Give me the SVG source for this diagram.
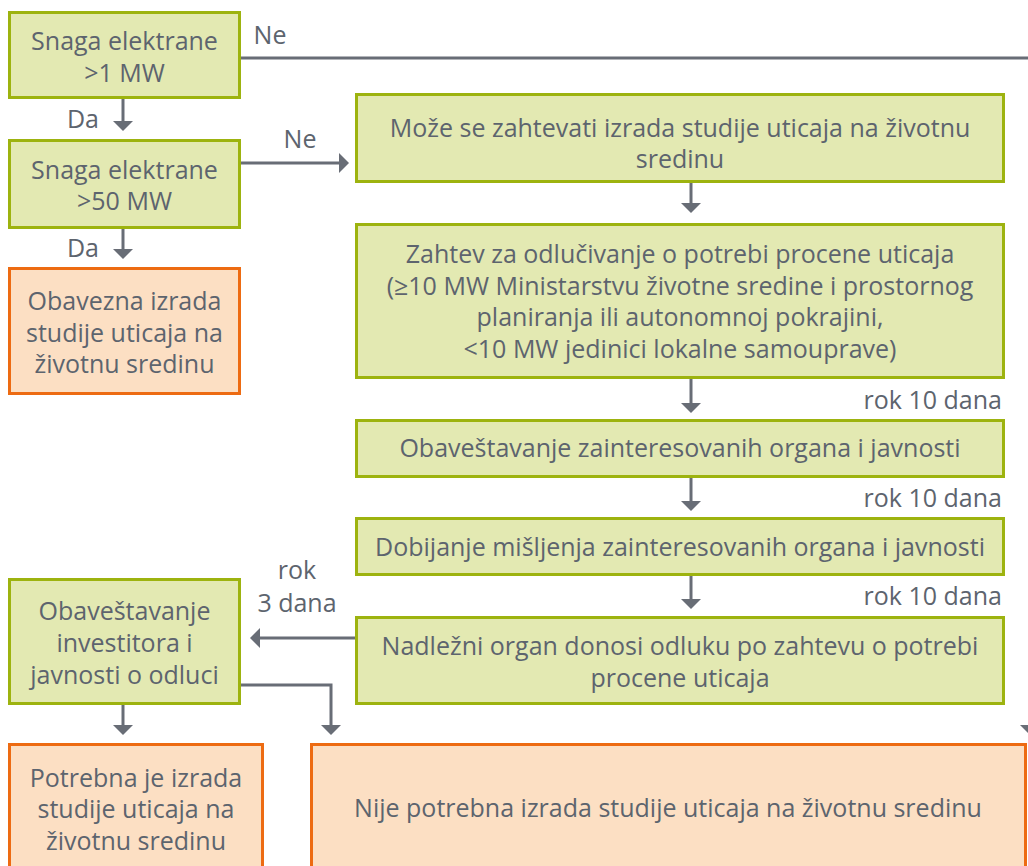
<svg xmlns="http://www.w3.org/2000/svg" width="1028" height="866" viewBox="0 0 1028 866">
<style>
.g{fill:#e3e9b2;stroke:#9db30f;stroke-width:3}
.o{fill:#fcdfc3;stroke:#ed6b12;stroke-width:3}
text{font-family:"Open Sans","Liberation Sans",sans-serif;font-size:25px;fill:#5d646e;text-anchor:middle}
.r{text-anchor:end}
.c{fill:none;stroke:#686d76;stroke-width:3}
</style>
<defs>
<marker id="ah" markerUnits="userSpaceOnUse" markerWidth="12" markerHeight="22" refX="2" refY="10" orient="auto" viewBox="0 0 12 20">
<path d="M0,0 L10,10 L0,20 Z" fill="#686d76"/>
</marker>
</defs>
<rect width="1028" height="866" fill="#ffffff"/>
<g id="connectors">
<path class="c" d="M241,58 H1030 V727" marker-end="url(#ah)"/>
<path class="c" d="M123,99 V123" marker-end="url(#ah)"/>
<path class="c" d="M123,229 V251" marker-end="url(#ah)"/>
<path class="c" d="M241,163 H341" marker-end="url(#ah)"/>
<path class="c" d="M691,183 V205" marker-end="url(#ah)"/>
<path class="c" d="M691,379 V405" marker-end="url(#ah)"/>
<path class="c" d="M691,478 V503" marker-end="url(#ah)"/>
<path class="c" d="M691,576 V601" marker-end="url(#ah)"/>
<path class="c" d="M355,638 H258" marker-end="url(#ah)"/>
<path class="c" d="M123,705 V727" marker-end="url(#ah)"/>
<path class="c" d="M241,685 H331 V727" marker-end="url(#ah)"/>
<text x="270" y="44">Ne</text>
<text x="83" y="128">Da</text>
<text x="83" y="257">Da</text>
<text x="300" y="148">Ne</text>
<text class="r" x="1002" y="409">rok 10 dana</text>
<text class="r" x="1002" y="507">rok 10 dana</text>
<text class="r" x="1002" y="605">rok 10 dana</text>
<text x="297" y="579">rok</text>
<text x="297" y="612">3 dana</text>
</g>
<g id="n1">
<rect class="g" x="9.5" y="12.5" width="230" height="85"/>
<text x="124.5" y="50">Snaga elektrane</text>
<text x="124.5" y="82">&gt;1 MW</text>
</g>
<g id="n2">
<rect class="g" x="9.5" y="140.5" width="230" height="87"/>
<text x="124.5" y="179">Snaga elektrane</text>
<text x="124.5" y="210">&gt;50 MW</text>
</g>
<g id="n3">
<rect class="o" x="9.5" y="268.5" width="230" height="125"/>
<text x="124.5" y="310">Obavezna izrada</text>
<text x="124.5" y="342">studije uticaja na</text>
<text x="124.5" y="373">životnu sredinu</text>
</g>
<g id="n4">
<rect class="g" x="356.5" y="94.5" width="647" height="87"/>
<text x="680" y="137">Može se zahtevati izrada studije uticaja na životnu</text>
<text x="680" y="168">sredinu</text>
</g>
<g id="n5">
<rect class="g" x="356.5" y="224.5" width="647" height="153"/>
<text x="680" y="263">Zahtev za odlučivanje o potrebi procene uticaja</text>
<text x="680" y="294.5">(≥10 MW Ministarstvu životne sredine i prostornog</text>
<text x="680" y="326">planiranja ili autonomnoj pokrajini,</text>
<text x="680" y="357.5">&lt;10 MW jedinici lokalne samouprave)</text>
</g>
<g id="n6">
<rect class="g" x="356.5" y="420.5" width="647" height="56"/>
<text x="680" y="457">Obaveštavanje zainteresovanih organa i javnosti</text>
</g>
<g id="n7">
<rect class="g" x="356.5" y="518.5" width="647" height="56"/>
<text x="680" y="556">Dobijanje mišljenja zainteresovanih organa i javnosti</text>
</g>
<g id="n8">
<rect class="g" x="356.5" y="617.5" width="647" height="86"/>
<text x="680" y="655">Nadležni organ donosi odluku po zahtevu o potrebi</text>
<text x="680" y="687">procene uticaja</text>
</g>
<g id="n9">
<rect class="g" x="9.5" y="579.5" width="230" height="124"/>
<text x="124.5" y="620">Obaveštavanje</text>
<text x="124.5" y="652">investitora i</text>
<text x="124.5" y="684">javnosti o odluci</text>
</g>
<g id="n10">
<rect class="o" x="9.5" y="744.5" width="253" height="130"/>
<text x="136" y="787">Potrebna je izrada</text>
<text x="136" y="818">studije uticaja na</text>
<text x="136" y="850">životnu sredinu</text>
</g>
<g id="n11">
<rect class="o" x="311.5" y="744.5" width="714" height="130"/>
<text x="668" y="817">Nije potrebna izrada studije uticaja na životnu sredinu</text>
</g>
</svg>
